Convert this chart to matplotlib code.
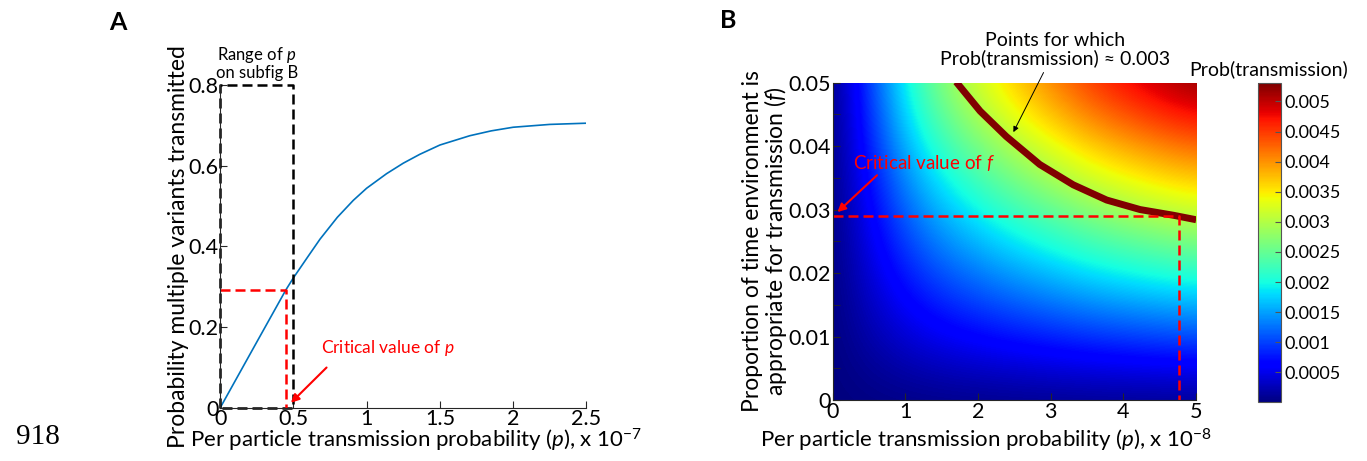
import numpy as np
import matplotlib
matplotlib.use("Agg")
import matplotlib.pyplot as plt

plt.rcParams["font.family"] = ["Lato", "DejaVu Sans"]
plt.rcParams["mathtext.fontset"] = "custom"
plt.rcParams["mathtext.rm"] = "Lato"
plt.rcParams["mathtext.it"] = "Lato:italic"

# panel A: curve (p in units of 1e-7)
p_a = [0, 0.25, 0.45, 0.5, 0.6, 0.682, 0.8, 0.909, 1.0, 1.136, 1.25, 1.363, 1.5,
       1.704, 1.85, 2.0, 2.25, 2.5]
prob_multi = [0, 0.163, 0.293, 0.322, 0.375, 0.418, 0.472, 0.514, 0.544, 0.58, 0.606,
              0.628, 0.651, 0.674, 0.686, 0.695, 0.702, 0.705]
range_b_p = 0.5
range_b_top = 0.8
crit_p = 0.45
crit_prob = 0.293

# panel B: Prob(transmission) on a grid (p in units of 1e-8, rows are f)
p_b = [0, 0.5, 1, 1.5, 2, 2.5, 3, 3.5, 4, 4.5, 5]
f_b = [0, 0.01, 0.02, 0.03, 0.04, 0.05]
prob_tx = [
    [0, 0, 0, 0, 0, 0, 0, 0, 0, 0, 0],
    [0, 0.0002, 0.0004, 0.00055, 0.000655, 0.00075, 0.00083, 0.00091, 0.00097, 0.00102, 0.00106],
    [0, 0.0004, 0.0008, 0.0011, 0.00131, 0.0015, 0.00166, 0.00182, 0.00194, 0.00204, 0.00212],
    [0, 0.0006, 0.0012, 0.00165, 0.001965, 0.00225, 0.00249, 0.00273, 0.00291, 0.00306, 0.00318],
    [0, 0.0008, 0.0016, 0.0022, 0.00262, 0.003, 0.00332, 0.00364, 0.00388, 0.00408, 0.00424],
    [0, 0.001, 0.002, 0.00275, 0.003275, 0.00375, 0.00415, 0.00455, 0.00485, 0.0051, 0.0053],
]
# the Prob(transmission) = 0.003 line
level_p = [1.70, 2.03, 2.39, 2.85, 3.31, 3.77, 4.23, 4.69, 5.0]
level_f = [0.0501, 0.0455, 0.0415, 0.0371, 0.0339, 0.0315, 0.0300, 0.0291, 0.0284]
crit_pb = 4.77
crit_f = 0.029
cbar_ticks = [0.0005, 0.001, 0.0015, 0.002, 0.0025, 0.003, 0.0035, 0.004, 0.0045, 0.005]
cbar_labels = ["0.0005", "0.001", "0.0015", "0.002", "0.0025", "0.003", "0.0035",
               "0.004", "0.0045", "0.005"]

axcol = "#262626"
fig = plt.figure(figsize=(13.67, 4.61), dpi=100)

# ---------- A ----------
ax = fig.add_axes([0.161, 0.115, 0.268, 0.701])
ax.plot(p_a, prob_multi, color="#0072BD", lw=1.2)
ax.plot([0, 0, range_b_p, range_b_p, 0], [0, range_b_top, range_b_top, 0, 0],
        color="black", lw=1.8, dashes=(4, 2), clip_on=False)
ax.plot([0, crit_p, crit_p], [crit_prob, crit_prob, 0], color="red", lw=1.8,
        dashes=(4, 2), clip_on=False)
ax.annotate("", xy=(0.47, 0.008), xytext=(0.74, 0.105),
            arrowprops=dict(arrowstyle="-|>", color="red", lw=1.5, mutation_scale=12))
ax.text(0.69, 0.148, r"Critical value of $\mathit{p}$", color="red", fontsize=12.5,
        va="center", ha="left")
ax.text(0.25, 0.81, "Range of $\\mathit{p}$\non subfig B", fontsize=12, ha="center",
        va="bottom", linespacing=1.0)
ax.set_xlim(0, 2.5)
ax.set_ylim(0, 0.8)
ax.set_xticks([0, 0.5, 1, 1.5, 2, 2.5])
ax.set_xticklabels(["0", "0.5", "1", "1.5", "2", "2.5"])
ax.set_yticks([0, 0.2, 0.4, 0.6, 0.8])
ax.set_yticklabels(["0", "0.2", "0.4", "0.6", "0.8"])
ax.set_xlabel(r"Per particle transmission probability ($\mathit{p}$), x 10$^{-7}$",
              fontsize=16)
ax.xaxis.set_label_coords(0.535, -0.058)
ax.set_ylabel("Probability multiple variants transmitted", fontsize=16.5, labelpad=0)
for s in ["top", "right"]:
    ax.spines[s].set_visible(False)
for s in ["left", "bottom"]:
    ax.spines[s].set_color(axcol)
ax.tick_params(direction="in", length=5, labelsize=15.5, color=axcol, pad=1)

# ---------- B ----------
bx = fig.add_axes([0.609, 0.132, 0.266, 0.689])
dp = p_b[1] - p_b[0]
dfv = f_b[1] - f_b[0]
img = bx.imshow(np.array(prob_tx), origin="lower", aspect="auto", cmap="jet",
                vmin=0, vmax=0.0053, interpolation="bicubic", interpolation_stage="data",
                extent=[p_b[0] - dp / 2, p_b[-1] + dp / 2, f_b[0] - dfv / 2, f_b[-1] + dfv / 2])
bx.plot(level_p, level_f, color=(0.5, 0, 0), lw=5, solid_capstyle="butt")
bx.plot([0, crit_pb, crit_pb], [crit_f, crit_f, 0], color="red", lw=1.8, dashes=(4, 2))
bx.annotate("", xy=(0.04, 0.0293), xytext=(0.64, 0.0357),
            arrowprops=dict(arrowstyle="-|>", color="red", lw=1.5, mutation_scale=12))
bx.text(0.28, 0.0373, r"Critical value of $\mathit{f}$", color="red", fontsize=13.5,
        va="center", ha="left")
bx.annotate("Points for which\nProb(transmission) \u2248 0.003", xy=(2.47, 0.0418),
            xytext=(3.06, 0.0524), ha="center", va="bottom", fontsize=14,
            linespacing=1.0, annotation_clip=False,
            arrowprops=dict(arrowstyle="-|>", color="black", lw=0.7, mutation_scale=8))
bx.set_xlim(0, 5)
bx.set_ylim(0, 0.05)
bx.set_xticks([0, 1, 2, 3, 4, 5])
bx.set_xticklabels(["0", "1", "2", "3", "4", "5"])
bx.set_yticks([0, 0.01, 0.02, 0.03, 0.04, 0.05])
bx.set_yticklabels(["0", "0.01", "0.02", "0.03", "0.04", "0.05"])
bx.set_yticks([0.005, 0.015, 0.025, 0.035, 0.045], minor=True)
bx.set_xlabel(r"Per particle transmission probability ($\mathit{p}$), x 10$^{-8}$",
              fontsize=16)
bx.xaxis.set_label_coords(0.422, -0.085)
bx.set_ylabel("Proportion of time environment is\nappropriate for transmission ($\\mathit{f}$)",
              fontsize=16.5, labelpad=0, linespacing=0.95)
for s in ["top", "right"]:
    bx.spines[s].set_visible(False)
for s in ["left", "bottom"]:
    bx.spines[s].set_color(axcol)
bx.tick_params(which="both", direction="in", length=5, labelsize=15.5, color=axcol, pad=1)

cax = fig.add_axes([0.920, 0.127, 0.0168, 0.692])
cb = fig.colorbar(img, cax=cax)
cb.set_ticks(cbar_ticks)
cb.set_ticklabels(cbar_labels)
cb.outline.set_edgecolor("#555555")
cb.outline.set_linewidth(0.8)
cax.tick_params(direction="in", length=4, labelsize=13, color="#555555", pad=3)
cax.set_title("Prob(transmission)", fontsize=14, pad=6)

fig.text(0.086, 0.952, "A", fontsize=18, fontweight="bold", ha="center", va="center")
fig.text(0.533, 0.955, "B", fontsize=18, fontweight="bold", ha="center", va="center")
fig.text(0.028, 0.052, "918", family="Liberation Serif", fontsize=21, ha="center",
         va="center")

fig.savefig("out.png", dpi=100)
